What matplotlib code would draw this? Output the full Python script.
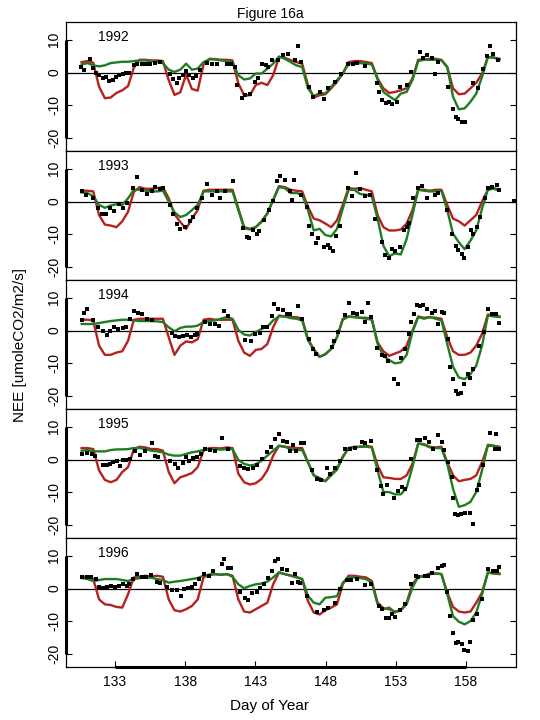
import numpy as np
import matplotlib
matplotlib.use("Agg")
import matplotlib.pyplot as plt

plt.rcParams['font.family'] = ['Liberation Sans', 'DejaVu Sans']

years = ["1992", "1993", "1994", "1995", "1996"]
xticks = [133, 138, 143, 148, 153, 158]
yticks = [-20, -10, 0, 10]
first_day = 130.62
last_day = 160.38

# 2-hourly NEE, six 5-day composite windows, model "red" and "green"
red_1992 = [3.2, 3.5, 3.0, -4.3, -7.8, -7.6, -6.2, -5.4, -4.1, 1.5, 3.9, 3.9, 3.7,
            3.7, 3.5, -2.3, -6.8, -6.0, -0.6, -5.0, -5.5, 2.5, 4.2, 4.1, 3.9,
            3.9, 3.7, -3.3, -6.9, -6.9, -3.8, -3.1, -3.8, -0.8, 4.7, 4.5, 3.8,
            3.2, 2.7, -3.8, -7.6, -6.9, -6.6, -4.8, -2.8, -0.3, 3.2, 3.5, 3.5,
            3.2, 2.9, -1.8, -4.8, -6.2, -5.9, -5.4, -4.8, -1.8, 3.9, 3.9, 4.2,
            4.2, 3.9, 1.7, -4.8, -6.6, -6.4, -4.8, -3.1, -0.3, 4.7, 4.5, 4.2]
green_1992 = [2.5, 2.9, 2.2, 1.9, 2.2, 2.9, 3.1, 3.3, 3.3, 3.5, 3.7, 3.7, 3.5,
              3.2, 2.9, 0.9, 0.2, 0.9, 2.7, 0.9, 1.2, 3.2, 4.0, 4.0, 3.7,
              3.5, 3.2, -0.8, -2.1, -1.8, -0.3, -0.3, 1.2, 2.7, 4.9, 4.2, 3.2,
              2.2, 1.7, -4.8, -7.2, -6.2, -6.4, -4.3, -2.3, -0.3, 2.7, 2.9, 2.9,
              2.7, 2.5, -2.1, -5.9, -7.2, -8.4, -6.4, -5.9, -2.3, 3.5, 3.9, 3.9,
              3.9, 3.7, 1.7, -7.4, -11.2, -10.9, -8.9, -6.4, -1.3, 4.7, 4.7, 3.9]
red_1993 = [3.3, 3.3, 3.1, -4.1, -7.0, -7.3, -7.8, -6.0, -3.1, 3.0, 4.4, 3.9, 3.9,
            4.1, 4.4, 1.0, -3.9, -6.2, -8.3, -5.2, -2.6, 3.3, 3.6, 3.6, 3.6,
            3.6, 3.6, -2.1, -7.8, -8.3, -7.8, -6.2, -3.6, 0.5, 4.7, 4.4, 3.6,
            3.3, 3.1, -1.6, -5.2, -5.7, -6.7, -7.8, -5.7, -1.0, 4.1, 3.9, 4.1,
            3.6, 3.1, -4.1, -7.8, -8.8, -8.8, -8.5, -6.7, -2.6, 3.6, 3.6, 3.3,
            3.6, 3.6, -1.0, -5.2, -6.0, -7.3, -5.7, -4.1, 0.0, 3.6, 4.1, 3.6]
green_1993 = [2.8, 2.6, 1.6, -1.0, -1.9, -1.2, -0.8, -1.0, 1.0, 3.6, 3.6, 3.3, 3.1,
              3.1, 3.3, 0.0, -3.3, -4.7, -4.1, -2.6, -1.0, 3.1, 3.1, 3.1, 3.1,
              3.1, 3.1, -2.6, -8.1, -8.5, -7.8, -6.0, -3.6, 0.5, 4.4, 4.1, 2.6,
              2.6, 2.1, -2.6, -8.8, -8.3, -10.2, -10.6, -8.3, -2.1, 3.6, 3.6, 2.3,
              2.1, 1.6, -5.2, -13.5, -16.6, -15.8, -16.1, -11.4, -4.1, 3.6, 3.3, 3.1,
              3.1, 3.3, -2.6, -9.8, -12.4, -14.5, -11.9, -8.8, -2.1, 3.6, 3.9, 3.3]
red_1994 = [3.3, 3.3, 3.1, -4.6, -7.4, -7.4, -6.7, -6.3, -3.1, 3.3, 3.6, 3.6, 3.6,
            3.6, 3.6, -2.0, -7.4, -4.6, -3.3, -3.6, -2.6, 3.3, 3.6, 3.3, 3.3,
            3.3, 3.3, -3.1, -6.7, -7.7, -5.9, -5.6, -4.1, 1.0, 4.6, 4.3, 4.1,
            4.1, 3.6, -2.6, -5.6, -8.0, -7.2, -5.6, -2.0, 3.3, 4.3, 4.1, 3.9,
            3.9, 3.6, -3.6, -6.3, -7.7, -7.0, -6.3, -4.6, 0.0, 4.3, 3.9, 4.1,
            3.9, 3.6, -2.0, -6.3, -7.4, -7.4, -6.7, -4.6, -1.0, 4.9, 4.6, 4.3]
green_1994 = [2.0, 2.0, 2.0, 2.3, 2.6, 2.9, 3.1, 3.3, 3.3, 3.1, 2.9, 2.9, 2.9,
              2.8, 2.6, 1.0, -0.2, 0.8, 1.2, 1.2, 1.5, 2.6, 2.9, 3.1, 3.6,
              4.1, 3.6, 0.2, -1.2, -1.5, -0.5, 0.5, 1.2, 3.1, 4.3, 4.3, 3.8,
              3.6, 3.1, -2.9, -5.9, -8.0, -7.2, -5.6, -2.0, 3.6, 4.3, 4.1, 3.9,
              3.6, 3.3, -4.1, -7.7, -9.0, -10.0, -9.7, -7.4, -0.5, 4.1, 3.6, 4.1,
              3.6, 3.1, -4.1, -11.0, -14.3, -14.8, -13.3, -10.7, -4.6, 4.6, 4.3, 4.1]
red_1995 = [3.5, 3.5, 3.2, -3.3, -6.2, -6.9, -6.2, -3.8, -2.3, 3.2, 3.9, 3.7, 3.2,
            3.2, 2.7, -3.8, -7.2, -5.4, -4.8, -4.1, -2.3, 2.7, 3.5, 3.5, 3.4,
            3.7, 3.5, -4.3, -6.9, -7.6, -7.2, -5.9, -3.3, 1.2, 4.2, 3.9, 3.7,
            3.5, 3.5, -0.8, -4.8, -5.9, -6.6, -4.3, -2.8, 0.7, 3.5, 3.9, 3.9,
            4.2, 3.9, -1.8, -5.4, -5.6, -5.9, -5.9, -4.8, -1.3, 4.9, 4.7, 3.9,
            3.7, 3.9, -0.8, -4.8, -6.6, -6.2, -5.9, -4.8, -0.8, 4.2, 4.2, 3.9]
green_1995 = [2.7, 2.9, 2.5, 2.5, 2.5, 2.9, 3.1, 3.1, 3.2, 3.5, 3.5, 3.2, 2.7,
              2.5, 2.2, 1.5, 1.2, 1.2, 1.7, 2.2, 2.5, 2.9, 3.2, 3.2, 3.0,
              3.2, 3.2, -0.1, -1.3, -1.8, -1.5, -0.3, 1.2, 2.7, 4.2, 3.9, 3.2,
              2.9, 2.9, -0.8, -4.8, -5.6, -6.6, -4.8, -3.1, 0.9, 3.5, 3.7, 3.9,
              3.9, 3.7, -3.3, -9.9, -9.9, -10.6, -10.6, -8.6, -2.3, 4.9, 4.5, 3.7,
              3.5, 3.5, -1.3, -8.9, -14.4, -13.9, -12.9, -9.9, -3.3, 4.5, 4.2, 3.7]
red_1996 = [3.6, 3.6, 2.9, -3.3, -4.8, -5.0, -5.6, -5.8, -1.7, 3.4, 3.6, 3.9, 3.7,
            3.9, 3.6, -3.3, -6.6, -7.0, -6.3, -5.3, -3.3, 3.4, 4.2, 4.4, 4.2,
            4.4, 3.9, -3.3, -7.0, -7.3, -6.3, -5.3, -4.3, 1.3, 4.9, 4.4, 4.0,
            3.4, 2.9, -3.8, -7.3, -7.9, -6.6, -5.8, -4.8, 1.3, 3.9, 3.9, 3.6,
            3.4, 2.3, -4.3, -6.0, -6.3, -7.0, -6.6, -4.3, 1.3, 3.6, 3.9, 4.6,
            4.6, 4.4, -1.2, -5.6, -7.0, -7.3, -7.0, -4.3, -1.2, 4.9, 4.6, 4.4]
green_1996 = [3.2, 2.9, 2.3, 2.6, 2.9, 2.9, 2.9, 2.6, 2.3, 2.9, 3.2, 3.4, 3.3,
              2.9, 2.6, 1.8, 2.1, 2.3, 2.6, 2.9, 3.2, 3.9, 4.2, 4.4, 4.2,
              4.4, 3.6, 1.3, 0.1, 0.8, 1.3, 1.5, 2.1, 3.4, 4.9, 4.4, 3.9,
              3.6, 2.9, -2.2, -4.3, -4.8, -2.8, -2.6, -2.3, 1.8, 3.4, 3.4, 3.2,
              2.9, 1.8, -4.8, -6.3, -5.8, -7.3, -6.6, -4.8, 0.3, 3.6, 3.6, 4.4,
              4.6, 4.4, -1.7, -8.4, -10.1, -10.9, -9.9, -7.3, -1.7, 4.9, 4.6, 4.6]

# observed NEE (day of year, value)
obs_day_1992 = [130.55, 130.79, 131.21, 131.45, 131.64, 131.88, 132.12, 132.35, 132.59, 132.83, 133.07, 133.30,
                133.54, 133.78, 134.02, 134.35, 134.59, 134.89, 135.20, 135.49, 135.84, 136.20, 136.91, 137.15,
                137.39, 137.58, 137.81, 138.05, 138.29, 138.53, 138.76, 139.05, 139.52, 139.88, 140.24, 140.95,
                141.23, 141.54, 141.66, 142.02, 142.26, 142.61, 142.97, 143.20, 143.49, 143.73, 143.92, 144.15,
                144.63, 144.98, 145.34, 146.01, 145.82, 146.24, 146.81, 147.12, 147.60, 147.91, 148.14, 148.67,
                149.09, 149.62, 149.97, 150.21, 150.80, 151.63, 151.82, 152.04, 152.27, 152.51, 152.70, 153.06,
                153.30, 153.77, 154.08, 154.72, 154.96, 155.19, 155.55, 155.79, 156.03, 156.74, 157.05, 157.26,
                157.45, 157.69, 157.93, 158.52, 158.87, 159.23, 159.47, 159.70, 159.94, 160.30]
obs_val_1992 = [1.7, 0.9, 4.2, 1.5, -0.1, -0.8, -1.8, -1.3, -2.5, -2.3, -1.3, -0.8,
                -0.3, -0.1, -0.1, 2.2, 2.7, 2.7, 2.7, 2.7, 2.9, 3.2, -0.3, -2.1,
                -3.3, -1.5, -0.8, 0.5, -0.8, -1.5, -1.1, 0.7, 2.9, 2.7, 2.7, 2.7,
                2.5, 1.7, -3.8, -7.6, -6.9, -6.4, -2.8, -1.5, 2.7, 2.2, 1.7, 3.7,
                3.9, 5.3, 5.8, 8.0, 3.7, 3.2, -4.3, -7.4, -5.9, -8.2, -4.8, -2.8,
                -0.3, 2.7, 2.7, 2.9, 1.9, -3.1, -5.9, -8.4, -9.4, -8.9, -9.7, -8.9,
                -4.3, -3.8, 0.2, 6.3, 4.5, 5.5, 4.4, -0.3, 3.2, -4.3, -11.2, -13.4,
                -14.2, -15.2, -15.2, -3.1, -4.8, 1.2, 4.9, 8.0, 5.8, 3.9]
obs_day_1993 = [130.62, 130.93, 131.40, 131.76, 132.05, 132.35, 132.64, 132.92, 133.30, 133.59, 133.83, 134.25,
                134.59, 134.90, 135.30, 135.61, 135.84, 136.20, 136.44, 136.91, 137.15, 137.39, 137.62, 137.98,
                138.34, 138.57, 138.86, 139.17, 139.52, 139.88, 140.24, 140.47, 140.83, 141.42, 142.09, 142.37,
                142.56, 142.80, 143.09, 143.28, 143.61, 143.99, 144.23, 144.51, 144.75, 145.10, 145.46, 145.63,
                145.77, 146.24, 146.65, 146.81, 147.05, 147.29, 147.48, 147.91, 148.14, 148.31, 148.55, 148.74,
                149.02, 149.57, 149.85, 150.16, 150.45, 150.80, 151.16, 151.51, 151.99, 152.23, 152.51, 152.70,
                152.94, 153.30, 153.58, 153.77, 153.94, 154.24, 154.55, 154.89, 155.19, 155.79, 156.03, 156.62,
                156.98, 157.26, 157.45, 157.69, 157.88, 158.11, 158.35, 158.52, 158.76, 158.99, 159.35, 159.59,
                159.82, 160.18, 160.35, 161.40]
obs_val_1993 = [3.1, 1.9, 1.0, -1.9, -3.9, -3.9, -2.1, -2.9, -0.8, -1.9, -0.5, 4.1,
                7.5, 3.6, 2.3, 3.3, 4.4, 3.9, 4.1, -1.0, -3.9, -6.7, -8.3, -7.8,
                -6.0, -4.7, -2.1, 1.0, 5.4, 2.1, 3.1, 1.0, 3.3, 6.2, -8.1, -10.9,
                -11.2, -8.8, -9.8, -9.1, -5.7, -2.6, 0.2, 6.2, 7.8, 6.7, 3.1, 0.5,
                6.7, 2.1, -1.6, -7.3, -9.8, -12.6, -11.2, -13.7, -13.3, -14.0, -15.0, -10.6,
                -7.3, 4.1, 1.6, 8.8, 3.9, 1.6, 2.1, -5.2, -12.4, -16.4, -17.1, -14.3,
                -15.0, -13.7, -8.6, -7.8, -6.4, 1.0, 4.1, 4.7, 1.0, 2.1, 2.6, -2.6,
                -9.8, -13.5, -14.7, -16.1, -17.1, -13.7, -8.8, -9.8, -7.8, -4.7, 1.0, 4.1,
                4.4, 5.0, 3.6, 0.1]
obs_day_1994 = [130.62, 130.79, 131.02, 131.45, 131.81, 132.12, 132.40, 132.64, 132.92, 133.23, 133.54, 133.78,
                134.06, 134.35, 134.66, 134.90, 135.30, 135.61, 137.03, 137.27, 137.58, 137.86, 138.15, 138.41,
                138.69, 138.86, 139.41, 139.76, 140.12, 140.43, 140.76, 141.07, 142.26, 142.66, 142.97, 143.32,
                143.56, 143.80, 144.15, 144.34, 144.63, 144.94, 145.22, 145.46, 146.05, 146.29, 146.81, 147.12,
                147.29, 148.43, 148.62, 148.90, 149.38, 149.66, 149.97, 150.21, 150.56, 150.80, 151.04, 151.23,
                151.63, 151.99, 152.23, 152.46, 152.89, 153.13, 153.34, 153.65, 153.94, 154.08, 154.32, 154.48,
                154.72, 154.96, 155.19, 155.55, 155.79, 156.03, 156.26, 156.45, 156.69, 156.86, 157.05, 157.26,
                157.45, 157.64, 157.88, 158.11, 158.28, 158.52, 158.92, 159.30, 159.54, 159.82, 160.11, 160.35]
obs_val_1994 = [3.1, 5.3, 6.7, 3.1, 1.0, 0.0, -1.2, 0.0, 1.2, 0.5, 0.8, 1.2,
                3.6, 6.1, 5.3, 4.9, 3.6, 3.3, -0.8, -1.8, -2.0, -1.8, -1.2, -2.0,
                -1.2, -1.0, 2.6, 2.0, 2.0, 1.5, 6.1, 4.3, -2.9, -3.3, -1.0, -0.8,
                1.0, 1.2, 4.3, 8.0, 6.7, 6.3, 4.9, 4.9, 7.4, 3.6, -2.6, -5.6,
                -7.0, -4.9, -3.3, -0.5, 4.6, 8.4, 5.3, 4.9, 5.6, 2.6, 8.4, 4.1,
                -5.3, -7.4, -7.8, -9.4, -14.8, -16.4, -8.4, -5.6, -1.0, 2.6, 4.9, 7.7,
                7.4, 7.7, 6.7, 5.3, 6.1, 2.0, 5.6, 5.3, -2.6, -11.1, -14.8, -18.4,
                -19.2, -19.0, -16.2, -13.3, -14.3, -11.8, -4.6, -0.5, 6.7, 4.9, 4.9, 2.3]
obs_day_1995 = [130.62, 130.98, 131.33, 131.57, 132.12, 132.40, 132.64, 132.88, 133.11, 133.35, 133.59, 133.78,
                134.06, 134.42, 134.78, 135.13, 135.61, 135.84, 136.08, 136.91, 137.27, 137.51, 137.81, 138.05,
                138.29, 138.53, 138.81, 139.10, 139.41, 139.76, 140.12, 140.59, 141.07, 141.90, 142.18, 142.49,
                142.80, 143.13, 143.44, 143.80, 144.08, 144.39, 144.70, 144.98, 145.22, 145.46, 145.70, 145.86,
                146.24, 146.48, 147.05, 147.36, 147.67, 148.07, 148.31, 148.67, 149.02, 149.38, 149.73, 150.09,
                150.56, 150.80, 151.23, 151.63, 151.94, 152.11, 152.35, 152.89, 153.18, 153.41, 153.65, 154.08,
                154.48, 154.72, 155.08, 155.36, 155.67, 156.03, 156.26, 156.45, 156.74, 156.98, 157.05, 157.21,
                157.45, 157.64, 157.93, 158.28, 158.52, 158.76, 158.92, 159.23, 159.70, 160.06, 160.13, 160.35]
obs_val_1995 = [1.7, 1.9, 1.7, 1.2, -1.8, -1.8, -1.5, -0.8, -0.5, -2.1, -0.1, -0.1,
                0.2, 2.7, 1.5, 2.5, 4.9, 1.2, 0.7, -0.5, -1.3, -2.5, -1.1, 0.9,
                -0.3, 0.5, 0.9, 1.7, 3.2, 2.9, 2.7, 6.6, 3.2, -2.1, -2.5, -2.8,
                -2.5, -1.8, 0.2, 2.2, 3.7, 6.3, 7.8, 5.8, 5.3, 2.7, 4.5, 2.7,
                4.9, 4.9, -3.1, -5.9, -6.2, -2.5, -4.3, -2.5, -0.3, 3.2, 3.2, 3.5,
                5.3, 4.9, 5.6, -3.1, -8.2, -10.6, -7.6, -11.6, -9.6, -8.4, -8.9, 0.2,
                6.0, 6.0, 6.6, 5.3, 3.2, 7.6, 5.3, 2.9, -0.8, -5.4, -11.6, -16.5,
                -17.0, -16.7, -16.3, -16.3, -19.5, -9.2, -7.9, -1.8, 8.0, 3.2, 7.8, 3.2]
obs_day_1996 = [130.62, 130.98, 131.26, 131.64, 131.88, 132.16, 132.40, 132.69, 133.00, 133.30, 133.59, 133.83,
                134.02, 134.30, 134.59, 134.90, 135.20, 135.54, 135.96, 136.20, 136.68, 137.03, 137.39, 137.67,
                137.91, 138.22, 138.46, 138.69, 139.00, 139.33, 139.71, 140.00, 140.59, 140.76, 141.07, 141.23,
                141.90, 142.26, 142.49, 142.73, 143.09, 143.32, 143.61, 143.92, 144.15, 144.39, 144.63, 144.87,
                145.22, 145.58, 145.82, 146.01, 146.17, 146.65, 147.36, 147.91, 148.19, 148.67, 149.02, 149.50,
                149.81, 150.21, 150.80, 151.23, 151.80, 152.04, 152.27, 152.51, 152.70, 152.94, 153.30, 153.65,
                154.08, 154.41, 154.60, 155.08, 155.31, 155.60, 156.03, 156.31, 156.45, 156.62, 156.86, 157.05,
                157.26, 157.45, 157.69, 157.88, 158.11, 158.30, 158.52, 158.76, 159.11, 159.59, 159.94, 160.18,
                160.37]
obs_val_1996 = [3.4, 3.6, 3.6, 2.9, 0.5, 0.1, 0.5, 0.8, 0.5, 0.8, 1.3, 0.8,
                1.3, 2.9, 4.4, 3.6, 3.6, 4.2, 2.1, 1.8, 0.5, -0.5, -0.5, -2.2,
                -0.2, 0.3, 0.5, 1.5, 2.9, 4.4, 3.9, 5.4, 7.4, 9.0, 6.4, 6.2,
                -1.2, -2.8, -3.6, -1.5, -1.2, 0.3, 1.5, 3.2, 5.4, 8.5, 9.0, 5.9,
                5.6, 1.8, 4.4, 2.1, 1.8, -2.2, -7.0, -6.6, -6.0, -4.3, -0.2, 2.6,
                2.6, 2.9, 1.1, 1.3, -5.3, -6.3, -9.1, -9.1, -7.9, -8.7, -6.6, -4.8,
                1.5, 3.9, 3.6, 3.9, 3.9, 4.6, 6.2, 6.9, 7.2, -0.9, -8.4, -13.5,
                -16.5, -16.2, -17.0, -18.6, -18.9, -16.2, -9.7, -7.7, -3.3, 5.9, 5.2, 5.2,
                6.6]

reds = [red_1992, red_1993, red_1994, red_1995, red_1996]
greens = [green_1992, green_1993, green_1994, green_1995, green_1996]
obs_days = [obs_day_1992, obs_day_1993, obs_day_1994, obs_day_1995, obs_day_1996]
obs_vals = [obs_val_1992, obs_val_1993, obs_val_1994, obs_val_1995, obs_val_1996]

RED = '#B5211F'
GREEN = '#1E7D22'
XLIM = (129.47, 161.56)
YLIM = (-23.9, 15.4)

fig = plt.figure(figsize=(5.4, 7.2), dpi=100)
fig.subplots_adjust(left=0.1213, right=0.9556, top=0.9694, bottom=0.0736, hspace=0)
axes = fig.subplots(5, 1, sharex=True)

for i, ax in enumerate(axes):
    n = len(reds[i])
    x = np.linspace(first_day, last_day, n)
    ax.axhline(0, color='black', lw=0.9, zorder=1)
    ax.plot(x, reds[i], color=RED, lw=1.7, zorder=2)
    ax.plot(x, greens[i], color=GREEN, lw=1.7, zorder=3)
    ax.plot(obs_days[i], obs_vals[i], 's', color='black', ms=2.3, mew=0, zorder=4)
    ax.set_xlim(*XLIM)
    ax.set_ylim(*YLIM)
    ax.set_yticks(yticks)
    ax.set_yticklabels([str(v) for v in yticks])
    ax.tick_params(axis='y', direction='in', length=4, width=0.8, left=True, right=True,
                   labelsize=10, pad=3, labelrotation=90)
    for lab in ax.get_yticklabels():
        lab.set_va('center')
    for sp in ax.spines.values():
        sp.set_linewidth(0.9)
    # thicker axis line over the tick range
    ax.plot([XLIM[0], XLIM[0]], [yticks[0], yticks[-1]], color='black', lw=2.2,
            clip_on=False, zorder=5, solid_capstyle='butt')
    ax.text(131.8, 10.7, years[i], fontsize=10, ha='left', va='center')
    if i < 4:
        ax.tick_params(axis='x', bottom=False, labelbottom=False)

ax = axes[-1]
ax.set_xticks(xticks)
ax.set_xticklabels([str(v) for v in xticks])
ax.tick_params(axis='x', direction='in', length=4, width=0.8, labelsize=10, pad=6, top=False)
ax.plot([xticks[0], xticks[-1]], [YLIM[0], YLIM[0]], color='black', lw=2.2,
        clip_on=False, zorder=5, solid_capstyle='butt')

fig.text(0.5, 0.981, "Figure 16a", ha='center', va='center', fontsize=10)
fig.text(0.5, 0.020, "Day of Year", ha='center', va='center', fontsize=11)
fig.text(0.037, 0.5207, "NEE [umoleCO2/m2/s]", ha='center', va='center', rotation=90, fontsize=11)

fig.savefig("out.png", dpi=100)
